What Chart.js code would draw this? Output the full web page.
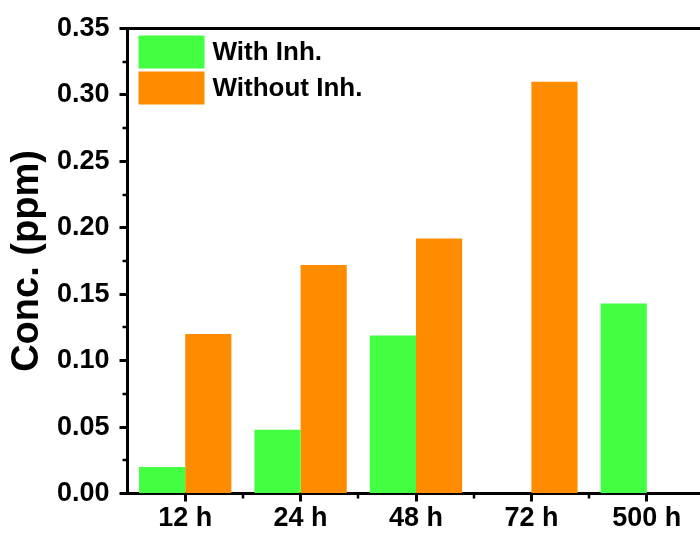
<!DOCTYPE html>
<html>
<head>
<meta charset="utf-8">
<script src="https://cdn.jsdelivr.net/npm/chart.js@4"></script>
<style>
  html, body { margin: 0; padding: 0; background: #fff; overflow: hidden; }
  #wrap { width: 712px; height: 533px; }
</style>
</head>
<body>
<div id="wrap"><canvas id="chart" width="712" height="533"></canvas></div>
<script>
// Sampling times and measured concentrations (ppm)
const categories = ['12 h', '24 h', '48 h', '72 h', '500 h'];
const withInh    = [0.020, 0.048, 0.119, null, 0.143];
const withoutInh = [0.120, 0.172, 0.192, 0.310, null];
const seriesNames = ['With Inh.', 'Without Inh.'];
const yMin = 0, yMax = 0.35, yStep = 0.05;

const FONT = '"Liberation Sans", Arial, sans-serif';
const GREEN = '#42FF42';
const ORANGE = '#FF8C00';

// Frame line on top, minor ticks and an inset legend
const decorations = {
  id: 'decorations',
  afterDraw(chart) {
    const { ctx, chartArea } = chart;
    const x = chart.scales.x, y = chart.scales.y;
    ctx.save();
    ctx.strokeStyle = '#000';
    // top frame
    ctx.lineWidth = 3;
    ctx.beginPath();
    ctx.moveTo(chartArea.left - 1.5, chartArea.top);
    ctx.lineTo(chartArea.right + 1.5, chartArea.top);
    ctx.stroke();
    // minor ticks
    ctx.lineWidth = 2.5;
    for (let v = yMin + yStep / 2; v < yMax; v += yStep) {
      const py = Math.round(y.getPixelForValue(v));
      ctx.beginPath();
      ctx.moveTo(chartArea.left, py);
      ctx.lineTo(chartArea.left - 5, py);
      ctx.stroke();
    }
    for (let i = 1; i < categories.length; i++) {
      const px = Math.round(x.getPixelForValue(i - 0.5));
      ctx.beginPath();
      ctx.moveTo(px, chartArea.bottom);
      ctx.lineTo(px, chartArea.bottom + 5);
      ctx.stroke();
    }
    // legend
    const bx = chartArea.left + 11, by = chartArea.top + 7;
    const bw = 66, bh = 33, gap = 3;
    ctx.font = 'bold 26px ' + FONT;
    ctx.textBaseline = 'middle';
    ctx.fillStyle = '#000';
    chart.data.datasets.forEach((ds, k) => {
      const top = by + k * (bh + gap);
      ctx.fillStyle = ds.backgroundColor;
      ctx.fillRect(bx, top, bw, bh);
      ctx.fillStyle = '#000';
      ctx.fillText(ds.label, bx + bw + 8, top + bh / 2 + 1);
    });
    ctx.restore();
  }
};

new Chart(document.getElementById('chart'), {
  type: 'bar',
  data: {
    labels: categories,
    datasets: [
      { label: seriesNames[0], data: withInh, backgroundColor: GREEN, borderWidth: 0 },
      { label: seriesNames[1], data: withoutInh, backgroundColor: ORANGE, borderWidth: 0 }
    ]
  },
  options: {
    responsive: false,
    animation: false,
    layout: { padding: { left: 0, top: 28.5, right: 7.5, bottom: 0 } },
    datasets: { bar: { categoryPercentage: 0.8, barPercentage: 1.0 } },
    plugins: { legend: { display: false }, tooltip: { enabled: false } },
    scales: {
      x: {
        offset: true,
        grid: { offset: false, drawOnChartArea: false, drawTicks: true, tickLength: 8, tickWidth: 3, tickColor: '#000' },
        border: { display: true, width: 3, color: '#000' },
        ticks: { color: '#000', font: { family: FONT, size: 27, weight: 'bold' }, padding: 1, maxRotation: 0 },
        afterFit(s) { s.height = 533 - 493.5; }
      },
      y: {
        min: yMin, max: yMax,
        grid: { drawOnChartArea: false, drawTicks: true, tickLength: 8, tickWidth: 3, tickColor: '#000' },
        border: { display: true, width: 3, color: '#000' },
        ticks: {
          stepSize: yStep, color: '#000', padding: 10,
          font: { family: FONT, size: 27, weight: 'bold' },
          callback: v => Number(v).toFixed(2)
        },
        title: {
          display: true, text: 'Conc. (ppm)', color: '#000',
          font: { family: FONT, size: 38, weight: 'bold' },
          padding: { top: 5, bottom: 0 }
        },
        afterFit(s) { s.width = 127.5; }
      }
    }
  },
  plugins: [decorations]
});
</script>
</body>
</html>
